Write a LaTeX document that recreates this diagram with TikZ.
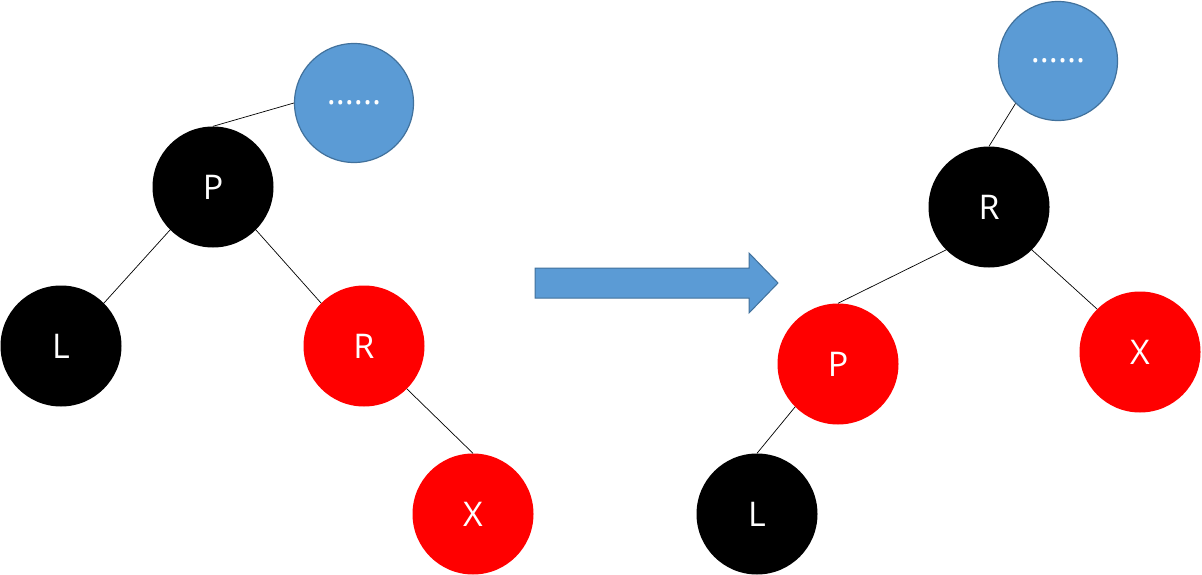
\documentclass[tikz,border=0pt]{standalone}
\usepackage{fontspec}
\setsansfont{Open Sans}
\usetikzlibrary{arrows, calc}
\definecolor{nodeblue}{HTML}{5B9BD5}
\definecolor{edgeblue}{HTML}{41719C}
\tikzset{
  rbnode/.style={circle, minimum size=121pt, inner sep=0pt, text=white,
    font=\sffamily\fontsize{34}{40}\selectfont},
  blacknode/.style={rbnode, fill=black},
  rednode/.style={rbnode, fill=red},
  dotsnode/.style={rbnode, fill=nodeblue, draw=edgeblue, line width=1.2pt, minimum size=119pt},
  link/.style={black, line width=0.7pt}
}
\begin{document}
\begin{tikzpicture}[x=1pt, y=-1pt]
            \useasboundingbox (0,0) rectangle (1202,575);

            % before rotation
            \node[dotsnode]  (ParentA) at (354,103) {......};
            \node[blacknode] (PA) at (213,187) {P};
            \node[blacknode] (LA) at (61,346) {L};
            \node[rednode]   (RA) at (364,346) {R};
            \node[rednode]   (XA) at (473,514) {X};

            \draw[link] (PA.north) -- (ParentA.west);
            \draw[link] (PA.south west) -- (LA.north east);
            \draw[link] (PA.south east) -- (RA.north west);
            \draw[link] (RA.south east) -- (XA.north);

            % arrow
            \draw[fill=nodeblue, draw=edgeblue, line width=1pt]
                (535,268) -- (749,268) -- (749,253) -- (778,283)
                -- (749,313) -- (749,298) -- (535,298) -- cycle;

            % after rotation
            \node[dotsnode]  (ParentB) at (1058,61) {......};
            \node[blacknode] (RB) at (989,207) {R};
            \node[rednode]   (PB) at (838,364) {P};
            \node[rednode]   (XB) at (1140,352) {X};
            \node[blacknode] (LB) at (757,514) {L};

            \draw[link] (RB.north) -- (ParentB.south west);
            \draw[link] (RB.south west) -- (PB.north);
            \draw[link] (RB.south east) -- (XB.north west);
            \draw[link] (PB.south west) -- (LB.north);
        \end{tikzpicture}
\end{document}
